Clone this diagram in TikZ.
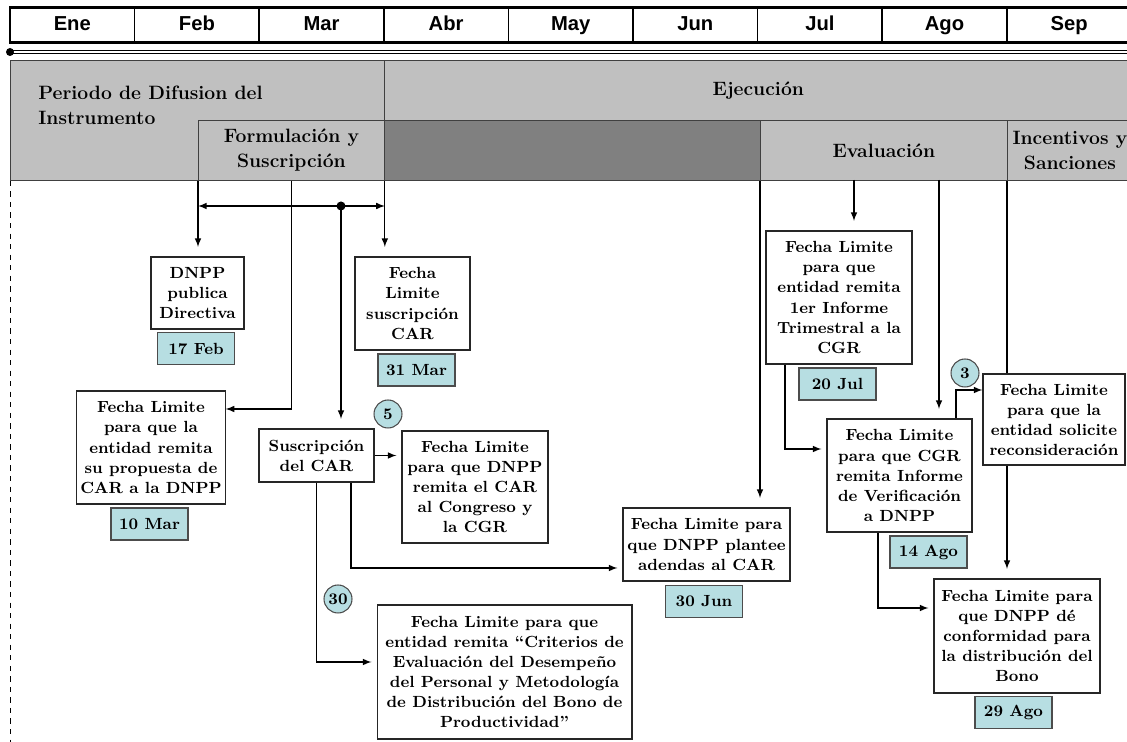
\documentclass[tikz,border=0pt]{standalone}
\usepackage{fontspec}
\newfontfamily\monthfont{Liberation Sans}
\usepackage{tikz}
\usetikzlibrary{calc}
\usetikzlibrary{positioning}
\definecolor{bandgray}{RGB}{192,192,192}
\definecolor{darkband}{RGB}{128,128,128}
\definecolor{datecyan}{RGB}{183,222,226}
\tikzstyle{monthcell} = [draw, line width=0.8pt, minimum width=2.492cm, minimum height=0.7cm, inner sep=0pt, text height=1.6ex, text depth=0.4ex, font=\monthfont\bfseries\fontsize{11.5}{13}\selectfont]
\tikzstyle{band} = [draw=black!75, line width=0.5pt, fill=bandgray, inner sep=0pt, anchor=north west, align=center, font=\bfseries\fontsize{11}{14.2}\selectfont]
\tikzstyle{evbox} = [draw=black!85, line width=0.6pt, fill=white, inner sep=2pt, align=center, font=\bfseries\fontsize{9.2}{11.4}\selectfont]
\tikzstyle{datebox} = [draw=black!70, line width=0.6pt, fill=datecyan, minimum width=1.54cm, minimum height=0.64cm, inner sep=0pt, font=\bfseries\fontsize{9.2}{11}\selectfont]
\tikzstyle{daycount} = [draw=black!70, line width=0.6pt, circle, fill=datecyan, minimum size=0.56cm, inner sep=0pt, font=\bfseries\fontsize{9.2}{11}\selectfont]
\tikzstyle{conn} = [line width=0.7pt, -latex]
\tikzstyle{vgap} = [shorten >=0.19cm]
\tikzstyle{hgap} = [shorten >=0.1cm]

\begin{document}
\begin{tikzpicture}[x=0.02cm, y=-0.02cm]
    \useasboundingbox (0,0) rectangle (1127,742);

    \foreach \mon [count=\i] in {Ene,Feb,Mar,Abr,May,Jun,Jul,Ago,Sep}
        \node[monthcell] (mon_\i) at ({10+124.6*(\i-0.5)},25.5) {\mon};
    \draw[line width=1.7pt] (10,8) rectangle (1133,43);

    \coordinate (tl_start) at (10,52);
    \coordinate (tl_end) at (1127,52);
    \draw[double, line width=0.5pt, double distance=1pt] (tl_start) -- (tl_end);
    \fill (tl_start) circle (0.08cm);
    \draw[line width=0.5pt] ([yshift=3pt]tl_end) -- ([yshift=-3pt]tl_end);

    \node[band, minimum width=7.48cm, minimum height=2.4cm] (ph_peri) at (10,60) {};
    \node[font=\bfseries\fontsize{11}{14.2}\selectfont, align=left, anchor=west, inner sep=0pt] (ph_peri_txt) at (38,105.5) {Periodo de Difusion del\\Instrumento};
    \node[band, minimum width=14.96cm, minimum height=1.2cm] (ph_ejec) at (384,60) {Ejecución};
    \node[band, minimum width=3.72cm, minimum height=1.2cm] (ph_form) at (198,120) {Formulación y\\Suscripción};
    \node[band, fill=darkband, minimum width=7.52cm, minimum height=1.2cm] (ph_dark) at (384,120) {};
    \node[band, minimum width=4.94cm, minimum height=1.2cm] (ph_eval) at (760,120) {Evaluación};
    \node[band, minimum width=2.5cm, minimum height=1.2cm] (ph_inc) at (1007,120) {Incentivos y\\Sanciones};

    \node[evbox, minimum width=1.86cm, minimum height=1.44cm] (box_dnpp) at (197.5,293) {DNPP\\publica\\Directiva};
    \node[datebox] (date_feb) at ($(box_dnpp)+(-1.5,55.5)$) {17 Feb};
    \node[evbox, minimum width=2.3cm, minimum height=1.86cm] (box_limsusc) at (412.5,303.5) {Fecha\\Limite\\suscripción\\CAR};
    \node[datebox] (date_mar31) at ($(box_limsusc)+(4,66.5)$) {31 Mar};
    \node[evbox, minimum width=2.92cm, minimum height=2.26cm] (box_prop) at (151,447.5) {Fecha Limite\\para que la\\entidad remita\\su propuesta de\\CAR a la DNPP};
    \node[datebox] (date_mar10) at ($(box_prop)+(-1.5,76.5)$) {10 Mar};
    \node[evbox, minimum width=2.3cm, minimum height=1.06cm] (box_susc) at (316.5,455.5) {Suscripción\\del CAR};
    \node[evbox, minimum width=2.92cm, minimum height=2.24cm] (box_remcar) at (475,487) {Fecha Limite\\para que DNPP\\remita el CAR\\al Congreso y\\la CGR};
    \node[daycount] (cnt_five) at (388,414) {5};
    \node[evbox, minimum width=3.34cm, minimum height=1.46cm] (box_adend) at (706.5,544.5) {Fecha Limite para\\que DNPP plantee\\adendas al CAR};
    \node[datebox] (date_jun) at ($(box_adend)+(-2.5,57)$) {30 Jun};
    \node[evbox, minimum width=5.1cm, minimum height=2.68cm] (box_crit) at (504.5,672) {Fecha Limite para que\\entidad remita “Criterios de\\Evaluación del Desempeño\\del Personal y Metodología\\de Distribución del Bono de\\Productividad”};
    \node[daycount] (cnt_thirty) at (338,599) {30};
    \node[evbox, minimum width=2.92cm, minimum height=2.66cm] (box_inf) at (839,297.5) {Fecha Limite\\para que\\entidad remita\\1er Informe\\Trimestral a la\\CGR};
    \node[datebox] (date_jul) at ($(box_inf)+(-1.5,86.5)$) {20 Jul};
    \node[evbox, minimum width=2.9cm, minimum height=2.26cm] (box_verif) at (899.5,475.5) {Fecha Limite\\para que CGR\\remita Informe\\de Verificación\\a DNPP};
    \node[datebox] (date_ago14) at ($(box_verif)+(29,76.5)$) {14 Ago};
    \node[evbox, minimum width=2.84cm, minimum height=1.82cm] (box_recon) at (1054,419.5) {Fecha Limite\\para que la\\entidad solicite\\reconsideración};
    \node[daycount] (cnt_three) at (965,373) {3};
    \node[evbox, minimum width=3.32cm, minimum height=2.28cm] (box_conf) at (1017,636) {Fecha Limite para\\que DNPP dé\\conformidad para\\la distribución del\\Bono};
    \node[datebox] (date_ago29) at ($(box_conf)+(-3.5,76.5)$) {29 Ago};

    \coordinate (jn) at (341,206);
    \coordinate (tap_inf) at (854,180);
    \coordinate (tap_ver) at (939,180);
    \coordinate (dash_end) at (10,742);

    \draw[dashed, line width=0.4pt] (ph_peri.south west) -- (dash_end);
    \draw[conn, vgap] (ph_form.south west) -- (ph_form.south west |- box_dnpp.north);
    \draw[conn, vgap] (ph_form.south east) -- (ph_form.south east |- box_limsusc.north);
    \draw[conn] (ph_form.south) |- ([yshift=0.77cm]box_prop.east);
    \draw[conn] (jn) -- (jn -| ph_form.west);
    \draw[conn] (jn) -- (jn -| ph_form.east);
    \fill (jn) circle (0.09cm);
    \draw[conn, vgap] (jn) -- (jn |- box_susc.north);
    \draw[conn, hgap] (box_susc.east) -- (box_susc.east -| box_remcar.west);
    \draw[conn, hgap] (box_susc.south) |- ([yshift=0.2cm]box_crit.west);
    \draw[conn, hgap] ([xshift=0.69cm]box_susc.south) |- ([yshift=-0.47cm]box_adend.west);
    \draw[conn, vgap] (ph_eval.south west) -- (ph_eval.south west |- box_adend.north);
    \draw[conn, vgap] (tap_inf) -- (tap_inf |- box_inf.north);
    \draw[conn, vgap] (tap_ver) -- (tap_ver |- box_verif.north);
    \draw[conn, hgap] ([xshift=-1.08cm]box_inf.south) |- ([yshift=0.53cm]box_verif.west);
    \draw[conn] ([xshift=1.13cm]box_verif.north) |- ([yshift=0.59cm]box_recon.west);
    \draw[line width=0.7pt] (ph_inc.south west) -- (ph_inc.south west |- box_recon.north);
    \draw[conn, vgap] (ph_inc.south west |- box_recon.south) -- (ph_inc.south west |- box_conf.north);
    \draw[conn, hgap] ([xshift=-0.43cm]box_verif.south) |- ([yshift=0.56cm]box_conf.west);
\end{tikzpicture}
\end{document}
